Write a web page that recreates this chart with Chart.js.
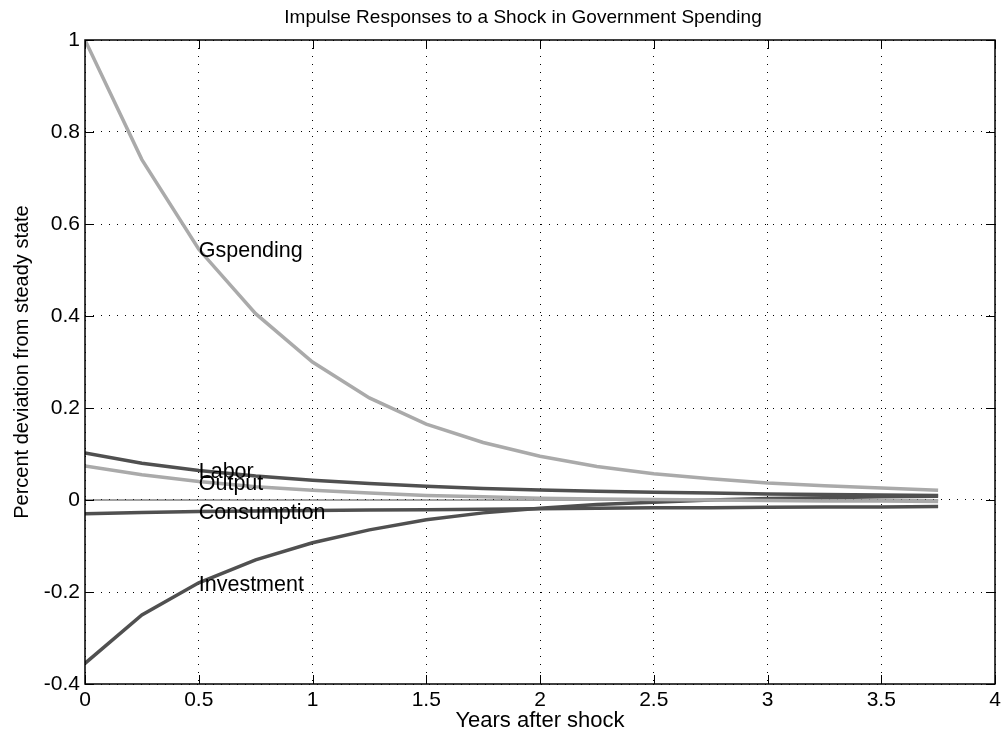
<!DOCTYPE html>
<html lang="en">
<head>
<meta charset="UTF-8">
<title>Impulse Responses</title>
<script src="https://cdn.jsdelivr.net/npm/chart.js@4.4.0/dist/chart.umd.min.js"></script>
<style>
    html, body { margin: 0; padding: 0; background: #fff; }
    #wrap { width: 1003px; height: 736px; }
</style>
</head>
<body>
<div id="wrap"><canvas id="myChart" width="1003" height="736"></canvas></div>
<script>
// years after the shock (quarterly)
const years = [0, 0.25, 0.5, 0.75, 1, 1.25, 1.5, 1.75, 2, 2.25, 2.5, 2.75, 3, 3.25, 3.5, 3.75];

// percent deviation from steady state
const gspending   = [1, 0.74, 0.545, 0.405, 0.30, 0.222, 0.165, 0.125, 0.095, 0.073, 0.057, 0.046, 0.037, 0.031, 0.026, 0.021];
const labor       = [0.102, 0.08, 0.064, 0.052, 0.043, 0.036, 0.030, 0.025, 0.022, 0.019, 0.017, 0.015, 0.013, 0.012, 0.011, 0.010];
const output      = [0.074, 0.055, 0.040, 0.029, 0.021, 0.015, 0.010, 0.007, 0.004, 0.002, 0.001, 0, -0.001, -0.002, -0.002, -0.003];
const consumption = [-0.030, -0.027, -0.025, -0.024, -0.023, -0.022, -0.021, -0.020, -0.019, -0.018, -0.017, -0.017, -0.016, -0.015, -0.015, -0.014];
const investment  = [-0.355, -0.25, -0.18, -0.13, -0.093, -0.065, -0.043, -0.028, -0.018, -0.010, -0.005, 0, 0.003, 0.005, 0.007, 0.008];
const zeroLine    = [0, 0, 0, 0, 0, 0, 0, 0, 0, 0, 0, 0, 0, 0, 0, 0];

const xTicks = [0, 0.5, 1, 1.5, 2, 2.5, 3, 3.5, 4];
const yTicks = [-0.4, -0.2, 0, 0.2, 0.4, 0.6, 0.8, 1];

const LIGHT = '#aaaaaa';
const DARK = '#505050';
const FONT = '"Liberation Sans", Arial, Helvetica, sans-serif';

function pts(arr) {
    return years.map(function (x, i) { return { x: x, y: arr[i] }; });
}

// series + where the text label sits (value at 0.5 years)
const series = [
    { name: 'Gspending', data: gspending, color: LIGHT },
    { name: 'Labor', data: labor, color: DARK },
    { name: 'Output', data: output, color: LIGHT },
    { name: 'Consumption', data: consumption, color: DARK },
    { name: 'Investment', data: investment, color: DARK }
];

// box, inward ticks, title and the line labels
const decor = {
    id: 'decor',
    afterDatasetsDraw(chart) {
        const ctx = chart.ctx;
        const a = chart.chartArea;
        const xs = chart.scales.x, ys = chart.scales.y;
        ctx.save();
        ctx.strokeStyle = '#000';
        ctx.lineWidth = 1.5;
        ctx.strokeRect(a.left, a.top, a.right - a.left, a.bottom - a.top);
        ctx.lineWidth = 1;
        ctx.beginPath();
        xTicks.forEach(function (v) {
            const px = Math.round(xs.getPixelForValue(v)) + 0.5;
            ctx.moveTo(px, a.bottom); ctx.lineTo(px, a.bottom - 9);
            ctx.moveTo(px, a.top); ctx.lineTo(px, a.top + 9);
        });
        yTicks.forEach(function (v) {
            const py = Math.round(ys.getPixelForValue(v)) + 0.5;
            ctx.moveTo(a.left, py); ctx.lineTo(a.left + 9, py);
            ctx.moveTo(a.right, py); ctx.lineTo(a.right - 9, py);
        });
        ctx.stroke();

        ctx.fillStyle = '#000';
        ctx.textBaseline = 'middle';
        ctx.textAlign = 'left';
        ctx.font = '21.5px ' + FONT;
        series.forEach(function (s) {
            const i = years.indexOf(0.5);
            ctx.fillText(s.name, xs.getPixelForValue(0.5), ys.getPixelForValue(s.data[i]) + 2);
        });

        ctx.textAlign = 'center';
        ctx.font = '19px ' + FONT;
        ctx.fillText('Impulse Responses to a Shock in Government Spending', 523, 18);
        ctx.restore();
    }
};

const datasets = series.map(function (s) {
    return {
        label: s.name,
        data: pts(s.data),
        borderColor: s.color,
        borderWidth: 3.5,
        pointRadius: 0,
        tension: 0,
        fill: false
    };
});
datasets.splice(3, 0, {
    label: 'zero',
    data: pts(zeroLine),
    borderColor: '#444',
    borderWidth: 1,
    pointRadius: 0,
    fill: false
});

function plain(v) { return String(v); }

const ctx = document.getElementById('myChart').getContext('2d');
const myChart = new Chart(ctx, {
    type: 'line',
    data: { datasets: datasets },
    options: {
        responsive: false,
        animation: false,
        layout: { padding: { top: 40, right: 8, left: 0, bottom: 0 } },
        plugins: {
            legend: { display: false },
            title: { display: false },
            tooltip: { enabled: false }
        },
        scales: {
            x: {
                type: 'linear',
                min: 0, max: 4,
                afterFit: function (s) { s.height = 52; s.paddingLeft = 0; s.paddingRight = 0; },
                afterBuildTicks: function (s) { s.ticks = xTicks.map(function (v) { return { value: v }; }); },
                ticks: { color: '#000', padding: 4, maxRotation: 0, callback: plain, font: { family: FONT, size: 21 } },
                grid: { color: '#000', drawTicks: false, lineWidth: 1 },
                border: { display: false, dash: [1, 7] },
                title: { display: true, text: 'Years after shock', color: '#000', padding: { top: 0, bottom: 2 }, font: { family: FONT, size: 22 } }
            },
            y: {
                type: 'linear',
                min: -0.4, max: 1,
                afterFit: function (s) { s.width = 85; s.paddingTop = 0; s.paddingBottom = 0; },
                afterBuildTicks: function (s) { s.ticks = yTicks.map(function (v) { return { value: v }; }); },
                ticks: { color: '#000', padding: 5, callback: plain, font: { family: FONT, size: 21 } },
                grid: { color: '#000', drawTicks: false, lineWidth: 1 },
                border: { display: false, dash: [1, 7] },
                title: { display: true, text: 'Percent deviation from steady state', color: '#000', padding: { top: 10, bottom: 0 }, font: { family: FONT, size: 20 } }
            }
        }
    },
    plugins: [decor]
});
</script>
</body>
</html>
